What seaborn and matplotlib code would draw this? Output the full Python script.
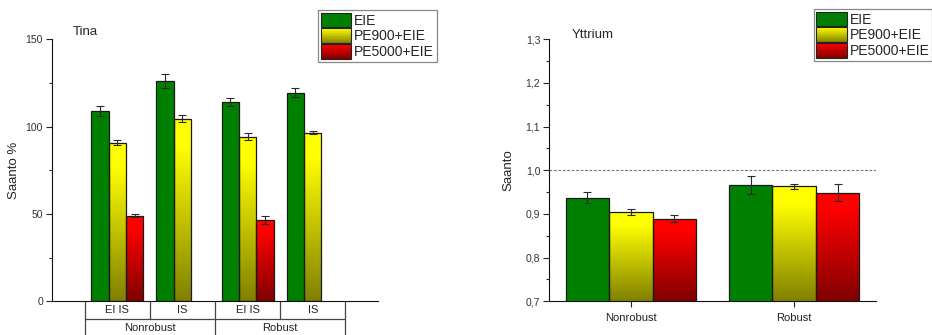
import numpy as np
import pandas as pd
import matplotlib
matplotlib.use("Agg")
import matplotlib.pyplot as plt
import matplotlib.transforms as mtransforms
from matplotlib.patches import Rectangle, Patch
from matplotlib.legend_handler import HandlerBase
from matplotlib.ticker import MultipleLocator, FuncFormatter
import seaborn as sns

# ---------------- data ----------------
series = ["EIE", "PE900+EIE", "PE5000+EIE"]
series_top = ["#008000", "#ffff00", "#ff0000"]
series_bottom = ["#008000", "#808000", "#800000"]

tina_groups = ["Nonrobust", "Robust"]
tina_methods = ["EI IS", "IS"]
tina_eie = [109.0, 126.0, 114.1, 119.3]
tina_eie_err = [2.7, 4.0, 2.5, 2.6]
tina_pe900 = [90.8, 104.6, 94.3, 96.6]
tina_pe900_err = [1.3, 1.8, 2.0, 1.1]
tina_pe5000 = [48.9, np.nan, 46.4, np.nan]
tina_pe5000_err = [0.8, np.nan, 2.3, np.nan]

ytt_categories = ["Nonrobust", "Robust"]
ytt_eie = [0.937, 0.966]
ytt_eie_err = [0.013, 0.020]
ytt_pe900 = [0.904, 0.963]
ytt_pe900_err = [0.007, 0.006]
ytt_pe5000 = [0.889, 0.949]
ytt_pe5000_err = [0.008, 0.020]

tina_keys = [f"{g} {m}" for g in tina_groups for m in tina_methods]


def build_df(keys, vals_list, errs_list):
    rows = []
    for s, vals, errs in zip(series, vals_list, errs_list):
        for k, v, e in zip(keys, vals, errs):
            if not np.isnan(v):
                rows.append({"cat": k, "series": s, "value": v, "err": e})
    return pd.DataFrame(rows)


tina_df = build_df(tina_keys, [tina_eie, tina_pe900, tina_pe5000],
                   [tina_eie_err, tina_pe900_err, tina_pe5000_err])
ytt_df = build_df(ytt_categories, [ytt_eie, ytt_pe900, ytt_pe5000],
                  [ytt_eie_err, ytt_pe900_err, ytt_pe5000_err])

# ---------------- style ----------------
sns.set_style("ticks")
plt.rcParams["font.family"] = ["Liberation Sans", "DejaVu Sans"]
plt.rcParams["axes.linewidth"] = 0.8

fig = plt.figure(figsize=(9.32, 3.35), dpi=100)
ax1 = fig.add_axes([52 / 932, 1 - 301.3 / 335, 326 / 932, 262 / 335])
ax2 = fig.add_axes([549.3 / 932, 1 - 301.3 / 335, 326.4 / 932, 262 / 335])

palette = dict(zip(series, series_top))


def hex2rgb(h):
    return np.array(matplotlib.colors.to_rgb(h))


def gradient_array(top, bottom, n=200, start=0.15):
    t = np.linspace(0, 1, n)
    f = np.clip((t - start) / (1 - start), 0, 1)
    c0, c1 = hex2rgb(top), hex2rgb(bottom)
    arr = c0[None, :] + (c1 - c0)[None, :] * f[:, None]
    return arr[:, None, :]


def draw_panel(ax, df, order, ylim):
    sns.barplot(data=df, x="cat", y="value", hue="series", order=order,
                hue_order=series, palette=palette, width=0.8, errorbar=None,
                edgecolor="#1a1a1a", linewidth=0.9, saturation=1,
                legend=False, ax=ax)
    ax.set_ylim(*ylim)
    slot = 0.8 / len(series)
    for bar in list(ax.patches):
        w = bar.get_width()
        h = bar.get_height()
        if not np.isfinite(h) or w <= 0:
            continue
        xc = bar.get_x() + w / 2
        ci = int(round(xc))
        hi = int(round((xc - ci) / slot)) + 1
        row = df[(df["cat"] == order[ci]) & (df["series"] == series[hi])].iloc[0]
        # gradient fill
        if series_top[hi] != series_bottom[hi]:
            y0 = max(bar.get_y(), ylim[0])
            y1 = bar.get_y() + h
            img = ax.imshow(gradient_array(series_top[hi], series_bottom[hi]),
                            extent=[bar.get_x(), bar.get_x() + w, y0, y1],
                            aspect="auto", origin="upper", zorder=bar.get_zorder() - 0.01,
                            interpolation="bilinear")
            img.set_clip_path(bar)
            bar.set_facecolor("none")
        ax.errorbar(xc, row["value"], yerr=row["err"], fmt="none",
                    ecolor="#2a2a2a", elinewidth=0.8, capsize=3, capthick=0.8,
                    zorder=5)
    ax.set_ylim(*ylim)
    ax.set_xlabel("")
    sns.despine(ax=ax)
    ax.tick_params(axis="y", which="major", direction="out", length=4.5,
                   width=0.8, labelsize=7.5, labelcolor="#333333", pad=2)
    ax.tick_params(axis="y", which="minor", direction="out", length=2.5, width=0.8)
    for sp in ax.spines.values():
        sp.set_color("#111111")


# ---------------- left panel: Tina ----------------
draw_panel(ax1, tina_df, tina_keys, (0, 150))
ax1.set_xlim(-1, 4)
ax1.set_xticks([])
ax1.yaxis.set_major_locator(MultipleLocator(50))
ax1.yaxis.set_minor_locator(MultipleLocator(25))
ax1.set_ylabel("Saanto %", fontsize=9.5, labelpad=4)
fig.text(73 / 932, 1 - 32 / 335, "Tina", fontsize=9.5, va="center", ha="left")

# category table under the left axis
trans = mtransforms.blended_transform_factory(ax1.transData, ax1.transAxes)
row1 = -18 / 262
row2 = -45 / 262
tcol = "#444444"
for i in range(len(tina_keys) + 1):
    ax1.plot([i - 0.5, i - 0.5], [0, row1], transform=trans, color=tcol,
             lw=0.9, clip_on=False)
for i in range(0, len(tina_keys) + 1, len(tina_methods)):
    ax1.plot([i - 0.5, i - 0.5], [row1, row2], transform=trans, color=tcol,
             lw=0.9, clip_on=False)
ax1.plot([-0.5, len(tina_keys) - 0.5], [row1, row1], transform=trans,
         color=tcol, lw=0.9, clip_on=False)
for i, k in enumerate(tina_keys):
    ax1.text(i, row1 / 2, tina_methods[i % len(tina_methods)], transform=trans,
             ha="center", va="center", fontsize=8, color="#222222")
for gi, g in enumerate(tina_groups):
    xc = gi * len(tina_methods) + (len(tina_methods) - 1) / 2
    ax1.text(xc, -27 / 262, g, transform=trans, ha="center", va="center",
             fontsize=8, color="#222222")

# ---------------- right panel: Yttrium ----------------
draw_panel(ax2, ytt_df, ytt_categories, (0.7, 1.3))
ax2.set_xlim(-0.5, 1.5)
ax2.axhline(1.0, color="#777777", lw=0.8, ls=(0, (2.5, 1.5)), zorder=0.5)
ax2.yaxis.set_major_locator(MultipleLocator(0.1))
ax2.yaxis.set_minor_locator(MultipleLocator(0.05))
ax2.yaxis.set_major_formatter(FuncFormatter(lambda v, p: f"{v:.1f}".replace(".", ",")))
ax2.set_xticks(range(len(ytt_categories)))
ax2.set_xticklabels(ytt_categories)
ax2.tick_params(axis="x", direction="out", length=4.5, width=0.8,
                labelsize=8, labelcolor="#222222", pad=4)
ax2.set_ylabel("Saanto", fontsize=9.5, labelpad=8)
fig.text(572 / 932, 1 - 35 / 335, "Yttrium", fontsize=9.5, va="center", ha="left")


# ---------------- gradient legends ----------------
class GradHandler(HandlerBase):
    def __init__(self, top, bottom):
        super().__init__()
        self.top = top
        self.bottom = bottom

    def create_artists(self, legend, orig_handle, xdescent, ydescent,
                       width, height, fontsize, trans):
        arts = []
        n = 24
        c0, c1 = hex2rgb(self.top), hex2rgb(self.bottom)
        for i in range(n):
            f = (i + 0.5) / n
            c = c0 + (c1 - c0) * f
            y0 = -ydescent + height * (1 - (i + 1) / n)
            arts.append(Rectangle((-xdescent, y0), width, height / n * 1.15,
                                  facecolor=c, edgecolor="none",
                                  transform=trans))
        arts.append(Rectangle((-xdescent, -ydescent), width, height,
                              facecolor="none", edgecolor="#222222", lw=0.8,
                              transform=trans))
        return arts


def add_legend(anchor):
    handles = [Patch(label=s) for s in series]
    hmap = {h: GradHandler(t, b) for h, t, b in zip(handles, series_top, series_bottom)}
    leg = fig.legend(handles=handles, labels=series, handler_map=hmap,
                     loc="upper left", bbox_to_anchor=anchor,
                     bbox_transform=fig.transFigure, fontsize=10,
                     frameon=True, fancybox=False, framealpha=1,
                     edgecolor="#888888", borderpad=0.2, labelspacing=0.05,
                     handlelength=2.2, handleheight=1.25, handletextpad=0.2,
                     borderaxespad=0)
    leg.get_frame().set_linewidth(0.9)
    return leg


add_legend((318 / 932, 1 - 10 / 335))
add_legend((813.7 / 932, 1 - 9 / 335))

fig.savefig("out.png", dpi=100)
